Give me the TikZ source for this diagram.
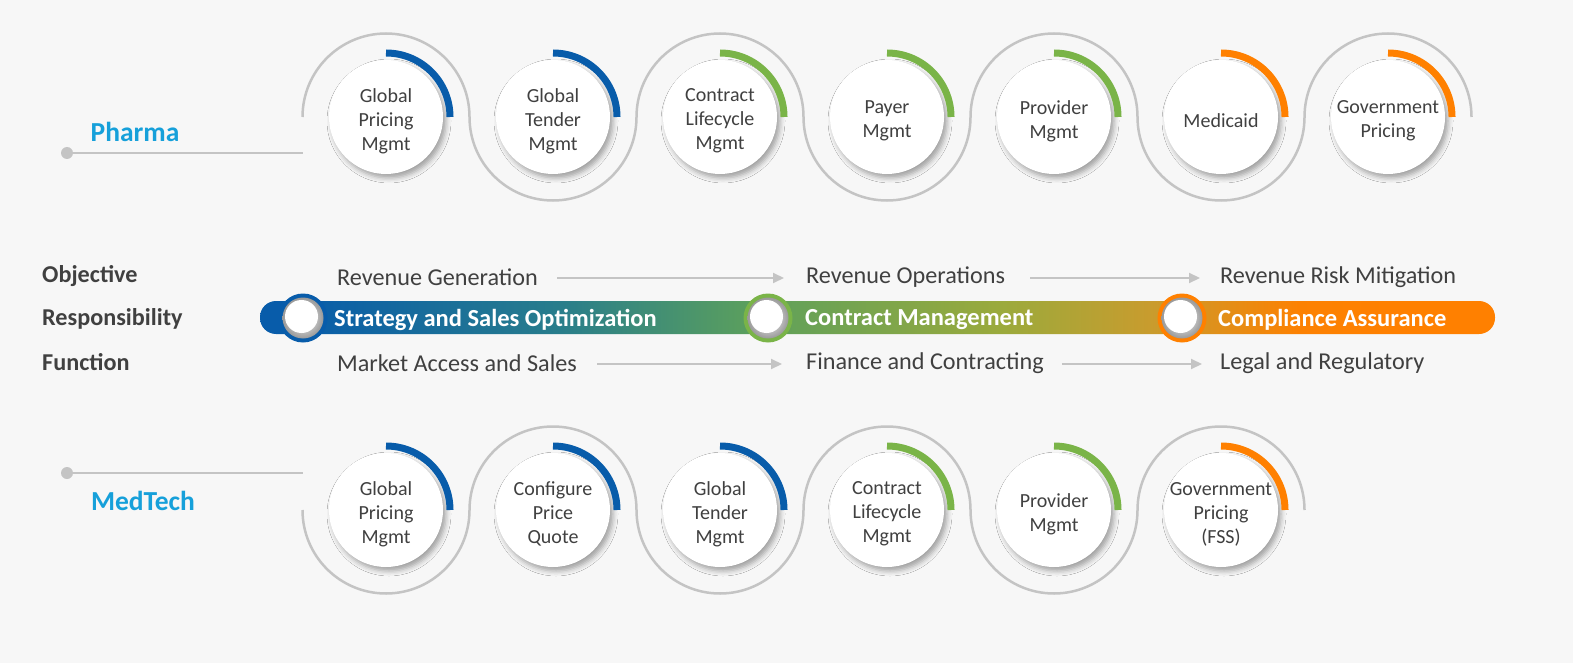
\documentclass[tikz,border=0pt]{standalone}
\usepackage{fontspec}
\setmainfont{Carlito}
\usepackage{xcolor}
\usetikzlibrary{arrows.meta,shadows.blur,positioning}

\definecolor{bgcol}{RGB}{247,247,247}
\definecolor{txtcol}{RGB}{64,64,64}
\definecolor{wavecol}{RGB}{196,196,196}
\definecolor{pblue}{RGB}{22,160,218}
\definecolor{blueA}{RGB}{8,92,170}
\definecolor{tealA}{RGB}{40,125,140}
\definecolor{greenA}{RGB}{122,180,72}
\definecolor{greenB}{RGB}{92,160,92}
\definecolor{oliveA}{RGB}{155,170,60}
\definecolor{ochreA}{RGB}{200,156,46}
\definecolor{orangeA}{RGB}{255,128,0}

% stops sit between 25bp and 75bp, the part TikZ stretches over the bar
\pgfdeclarehorizontalshading{barshade}{100bp}{color(0bp)=(blueA); color(26.5bp)=(blueA);
  color(37bp)=(tealA); color(45bp)=(greenB); color(55bp)=(oliveA); color(61bp)=(ochreA);
  color(67bp)=(orangeA!95!ochreA); color(71bp)=(orangeA); color(100bp)=(orangeA)}

\tikzset{
  bubble/.style={circle,fill=white,minimum size=114pt,inner sep=0pt,
    blur shadow={shadow xshift=3pt,shadow yshift=-4pt,shadow blur radius=5pt,shadow opacity=35}},
  bubtxt/.style={align=center,inner sep=0pt,text=txtcol,font=\fontsize{20}{24}\selectfont},
  wave/.style={wavecol,line width=2.5pt},
  rowtxt/.style={anchor=west,text=txtcol,inner sep=0pt,font=\fontsize{24.2}{28}\selectfont},
  lbl/.style={anchor=west,text=txtcol,inner sep=0pt,font=\bfseries\fontsize{24.2}{28}\selectfont},
  bartxt/.style={anchor=west,text=white,inner sep=0pt,font=\bfseries\fontsize{24.5}{28}\selectfont},
  grp/.style={text=pblue,inner sep=0pt,font=\bfseries\fontsize{27.5}{30}\selectfont},
  flow/.style={wavecol,line width=2pt,-{Triangle[length=11pt,width=10pt]}}
}

\begin{document}
\begin{tikzpicture}[x=1pt,y=1pt]
\fill[bgcol] (0,0) rectangle (1573,-663);
\useasboundingbox (0,0) rectangle (1573,-663);

% Pharma row
\coordinate (pdot) at (67,-153);
\coordinate (pend) at (303,-153);
\draw[wavecol,line width=2pt] (pdot) -- (pend);
\fill[wavecol] (pdot) circle (6);
\node[grp] (pharma) at (135,-132) {Pharma};

\draw[wave] (302.5,-117) arc (180:0:83.5) arc (180:360:83.5) arc (180:0:83.5)
  arc (180:360:83.5) arc (180:0:83.5) arc (180:360:83.5) arc (180:0:83.5);

\foreach \txt/\col [count=\n] in {{Global\\Pricing\\Mgmt}/blueA,{Global\\Tender\\Mgmt}/blueA,
    {Contract\\Lifecycle\\Mgmt}/greenA,{Payer\\Mgmt}/greenA,{Provider\\Mgmt}/greenA,
    {Medicaid}/orangeA,{Government\\Pricing}/orangeA}{
  \node[bubble] (p\n) at ({386+167*(\n-1)},-117) {};
  \node[bubtxt] (pt\n) at ([yshift=-4pt]p\n.center) {\txt};
  \draw[\col,line width=7pt] (p\n.center) ++(0,64) arc (90:0:64);
}

% MedTech row
\coordinate (mdot) at (67,-473);
\coordinate (mend) at (303,-473);
\draw[wavecol,line width=2pt] (mdot) -- (mend);
\fill[wavecol] (mdot) circle (6);
\node[grp] (medtech) at (143,-501) {MedTech};

\draw[wave] (302.5,-510) arc (180:360:83.5) arc (180:0:83.5) arc (180:360:83.5)
  arc (180:0:83.5) arc (180:360:83.5) arc (180:0:83.5);

\foreach \txt/\col [count=\n] in {{Global\\Pricing\\Mgmt}/blueA,{Configure\\Price\\Quote}/blueA,
    {Global\\Tender\\Mgmt}/blueA,{Contract\\Lifecycle\\Mgmt}/greenA,{Provider\\Mgmt}/greenA,
    {Government\\Pricing\\(FSS)}/orangeA}{
  \node[bubble] (m\n) at ({386+167*(\n-1)},-510) {};
  \node[bubtxt] (mt\n) at ([yshift=-4pt]m\n.center) {\txt};
  \draw[\col,line width=7pt] (m\n.center) ++(0,64) arc (90:0:64);
}

% left labels
\node[lbl] (obj) at (42,-276) {Objective};
\node[lbl] (resp) at (42,-319) {Responsibility};
\node[lbl] (func) at (42,-362) {Function};

% objective and function rows
\node[rowtxt] (rg) at (337,-277) {Revenue Generation};
\node[rowtxt] (ro) at (806,-277) {Revenue Operations};
\node[rowtxt] (rm) at (1220,-277) {Revenue Risk Mitigation};
\node[rowtxt] (ma) at (337,-363) {Market Access and Sales};
\node[rowtxt] (fc) at (806,-363) {Finance and Contracting};
\node[rowtxt] (lr) at (1220,-363) {Legal and Regulatory};
\draw[flow] ([xshift=19pt,yshift=-1pt]rg.east) -- ([xshift=-22pt,yshift=-1pt]ro.west);
\draw[flow] ([xshift=25pt,yshift=-1pt]ro.east) -- ([xshift=-20pt,yshift=-1pt]rm.west);
\draw[flow] ([xshift=20pt,yshift=-1pt]ma.east) -- ([xshift=-24pt,yshift=-1pt]fc.west);
\draw[flow] ([xshift=18pt,yshift=-1pt]fc.east) -- ([xshift=-18pt,yshift=-1pt]lr.west);

% responsibility bar
\shade[shading=barshade,rounded corners=16pt] (260,-301) rectangle (1495,-334);
\foreach \kx/\col [count=\n] in {303/blueA,768/greenA,1182/orangeA}{
  \coordinate (k\n) at (\kx,-318);
  \fill[\col] (k\n) circle (24.5);
  \shade[inner color=white,outer color=black!40] (k\n) circle (20.5);
  \fill[white] ([shift={(-1.5,1.5)}]k\n) circle (16.5);
}
\node[bartxt] (sso) at (334,-320) {Strategy and Sales Optimization};
\node[bartxt] (cm) at (805,-320) {Contract Management};
\node[bartxt] (ca) at (1218,-320) {Compliance Assurance};
\end{tikzpicture}
\end{document}
